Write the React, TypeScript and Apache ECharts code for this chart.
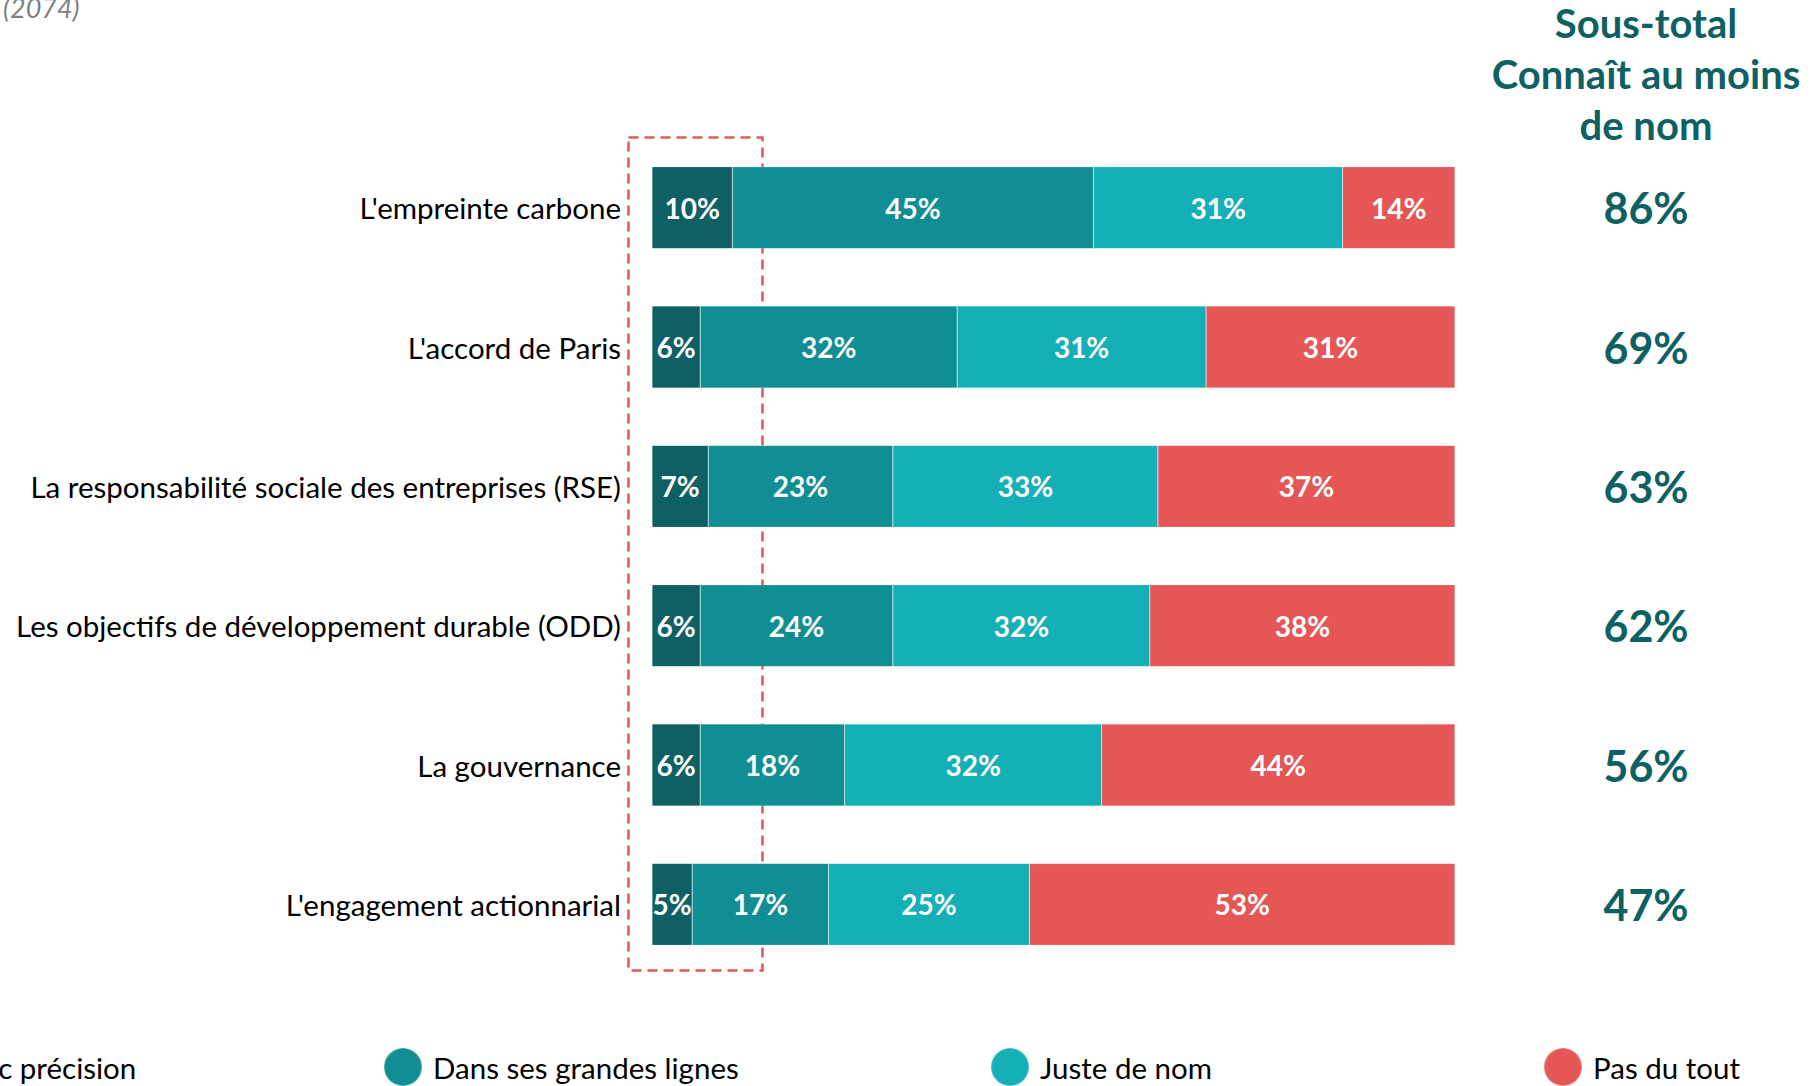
import React, { useEffect, useRef } from "react";
import * as echarts from "echarts";

const categories = [
  "L'empreinte carbone",
  "L'accord de Paris",
  "La responsabilité sociale des entreprises (RSE)",
  "Les objectifs de développement durable (ODD)",
  "La gouvernance",
  "L'engagement actionnarial",
];
const seriesNames = ["Avec précision", "Dans ses grandes lignes", "Juste de nom", "Pas du tout"];
const avecPrecision = [10, 6, 7, 6, 6, 5];
const grandesLignes = [45, 32, 23, 24, 18, 17];
const justeDeNom = [31, 31, 33, 32, 32, 25];
const pasDuTout = [14, 31, 37, 38, 44, 53];
const sousTotal = [86, 69, 63, 62, 56, 47];
const headerLines = ["Sous-total", "Connaît au moins", "de nom"];
const sampleNote = "(2074)";

const colors = ["#0E6064", "#118E93", "#14AFB7", "#E45756"];
const FONT = "Lato";

export default function App() {
  const ref = useRef<HTMLDivElement>(null);
  useEffect(() => {
    document.body.style.margin = "0";
    if (!ref.current) return;
    const chart = echarts.init(ref.current, undefined, { renderer: "svg" });
    const values = [avecPrecision, grandesLignes, justeDeNom, pasDuTout];
    const legendLefts = [-101, 383, 990, 1543];
    chart.setOption({
      animation: false,
      backgroundColor: "#ffffff",
      textStyle: { fontFamily: FONT },
      grid: { left: 652, width: 803, top: 138, height: 836, containLabel: false },
      xAxis: { type: "value", min: 0, max: 100, show: false },
      yAxis: [
        {
          type: "category",
          data: categories,
          inverse: true,
          axisLine: { show: false },
          axisTick: { show: false },
          splitLine: { show: false },
          axisLabel: { margin: 31, fontSize: 29.5, color: "#000000", fontFamily: FONT },
        },
        {
          type: "category",
          data: categories,
          inverse: true,
          position: "right",
          axisLine: { show: false },
          axisTick: { show: false },
          splitLine: { show: false },
          axisLabel: {
            margin: 191,
            align: "center",
            fontSize: 43,
            fontWeight: "bold",
            color: "#0E6163",
            fontFamily: FONT,
            formatter: (_v: string, i: number) => sousTotal[i] + "%",
          },
        },
      ],
      legend: seriesNames.map((name, i) => ({
        data: [{ name, icon: "circle" }],
        left: legendLefts[i],
        top: 1047,
        padding: 0,
        itemWidth: 38,
        itemHeight: 38,
        selectedMode: false,
        textStyle: { fontSize: 29.5, color: "#000000", fontFamily: FONT, padding: [0, 0, 0, 6] },
      })),
      series: seriesNames.map((name, i) => ({
        name,
        type: "bar",
        stack: "total",
        barWidth: 82,
        data: values[i],
        itemStyle: { color: colors[i], borderColor: "rgba(255,255,255,0.25)", borderWidth: 0.6 },
        label: {
          show: true,
          position: "inside",
          formatter: "{c}%",
          color: "#ffffff",
          fontWeight: "bold",
          fontSize: 28,
          fontFamily: FONT,
        },
        emphasis: { disabled: true },
      })),
      graphic: [
        {
          type: "text",
          x: 1646,
          y: -3,
          style: {
            text: headerLines.join("\n"),
            align: "center",
            verticalAlign: "top",
            fill: "#0E6163",
            font: `bold 40px ${FONT}`,
            lineHeight: 51,
          },
        },
        {
          type: "text",
          x: 3,
          y: -6,
          style: {
            text: sampleNote,
            align: "left",
            verticalAlign: "top",
            fill: "#808080",
            font: `italic 27px ${FONT}`,
          },
        },
        {
          type: "rect",
          shape: { x: 628.5, y: 137.5, width: 134, height: 833 },
          style: { fill: "none", stroke: "#E05A5A", lineWidth: 2.5, lineDash: [10, 6] },
        },
      ],
    });
    return () => chart.dispose();
  }, []);
  return <div ref={ref} style={{ width: 1814, height: 1086, position: "absolute", left: 0, top: 0 }} />;
}
